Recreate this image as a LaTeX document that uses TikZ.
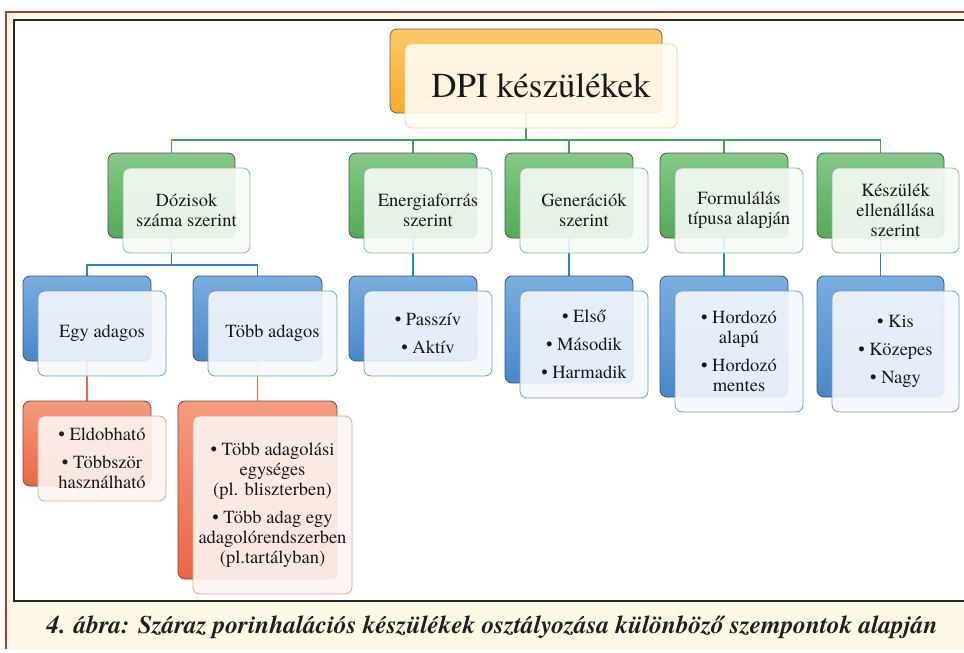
\documentclass[tikz,border=0pt]{standalone}
\usepackage{fontspec}
\IfFontExistsTF{texgyretermes-regular.otf}{%
  \setmainfont{texgyretermes}[Extension=.otf, UprightFont=*-regular, BoldFont=*-bold, ItalicFont=*-italic, BoldItalicFont=*-bolditalic]}{%
  \setmainfont{Latin Modern Roman}}
\pgfdeclarelayer{bgl}
\pgfdeclarelayer{lnl}
\pgfsetlayers{bgl,lnl,main}
\definecolor{cream}{HTML}{FDF9E6}
\definecolor{framered}{HTML}{A8402E}
\tikzset{
  boxbase/.style={rectangle, rounded corners=7pt, inner sep=0pt, line width=0.8pt},
  frontbase/.style={boxbase, fill opacity=0.9, text opacity=1, text=black!90, align=center, font=\fontsize{18.5}{20}\selectfont},
  goldback/.style={boxbase, top color={rgb,255:red,252;green,202;blue,104}, bottom color={rgb,255:red,245;green,170;blue,48}, draw={rgb,255:red,110;green,95;blue,70}},
  goldfront/.style={frontbase, fill={rgb,255:red,255;green,252;blue,242}, draw={rgb,255:red,243;green,213;blue,142}, font=\fontsize{35}{40}\selectfont},
  greenback/.style={boxbase, top color={rgb,255:red,134;green,201;blue,138}, bottom color={rgb,255:red,84;green,169;blue,86}, draw={rgb,255:red,70;green,95;blue,72}},
  greenfront/.style={frontbase, fill={rgb,255:red,247;green,251;blue,247}, draw={rgb,255:red,134;green,192;blue,140}},
  blueback/.style={boxbase, top color={rgb,255:red,122;green,174;blue,224}, bottom color={rgb,255:red,74;green,134;blue,200}, draw={rgb,255:red,62;green,86;blue,120}},
  bluefront/.style={frontbase, fill={rgb,255:red,245;green,248;blue,253}, draw={rgb,255:red,111;green,159;blue,210}},
  redback/.style={boxbase, top color={rgb,255:red,245;green,155;blue,125}, bottom color={rgb,255:red,234;green,102;blue,70}, draw={rgb,255:red,120;green,72;blue,60}},
  redfront/.style={frontbase, fill={rgb,255:red,253;green,245;blue,242}, draw={rgb,255:red,237;green,164;blue,140}},
  gline/.style={draw={rgb,255:red,58;green,166;blue,86}, line width=1.5pt},
  bline/.style={draw={rgb,255:red,50;green,128;blue,196}, line width=1.5pt},
  rline/.style={draw={rgb,255:red,230;green,106;blue,70}, line width=1.5pt},
  captionstyle/.style={inner sep=0pt, text=black!88, font=\fontsize{25.3}{27}\selectfont\bfseries\itshape}
}
\newcommand\mkbox[7]{%
  \node[#2back, minimum width=#5pt, minimum height=#6pt] (#1b) at ({#3+#5/2},{#4+#6/2}) {};
  \node[#2front, minimum width=#5pt, minimum height=#6pt] (#1f) at ({#3+15+#5/2},{#4+15+#6/2}) {#7};
}
\newcommand\bul{\textbullet\ }
\begin{document}
\begin{tikzpicture}[x=1pt,y=-1pt]
\useasboundingbox (0,0) rectangle (964,653);
\begin{pgfonlayer}{bgl}
  \fill[white] (0,0) rectangle (964,653);
  \fill[cream] (6,12) rectangle (964,649);
  \draw[framered, line width=2.5pt] (6,649) -- (6,12) -- (964,12);
  \fill[white] (14,20) rectangle (964,601);
  \draw[black!85, line width=1.2pt] (964,20) -- (14,20) -- (14,601) -- (964,601);
\end{pgfonlayer}

\mkbox{root}{gold}{390}{29}{272}{84}{DPI készülékek}
\mkbox{ga}{green}{108}{153}{127}{85}{Dózisok\\száma szerint}
\mkbox{gb}{green}{349}{153}{128}{85}{Energiaforrás\\szerint}
\mkbox{gc}{green}{505}{153}{128}{85}{Generációk\\szerint}
\mkbox{gd}{green}{660}{153}{128}{85}{Formulálás\\típusa alapján}
\mkbox{ge}{green}{817}{153}{127}{85}{Készülék\\ellenállása\\szerint}
\mkbox{ba}{blue}{23}{276}{128}{85}{Egy adagos}
\mkbox{bb}{blue}{193}{276}{129}{85}{Több adagos}
\mkbox{bc}{blue}{349}{276}{128}{85}{\bul Passzív\\[8pt]\bul Aktív}
\mkbox{bd}{blue}{505}{276}{128}{107}{\bul Első\\[8pt]\bul Második\\[8pt]\bul Harmadik}
\mkbox{be}{blue}{660}{276}{128}{121}{\bul Hordozó\\alapú\\[8pt]\bul Hordozó\\mentes}
\mkbox{bf}{blue}{817}{276}{127}{121}{\bul Kis\\[8pt]\bul Közepes\\[8pt]\bul Nagy}
\mkbox{ra}{red}{23}{401}{128}{85}{\bul Eldobható\\[8pt]\bul Többször\\használható}
\mkbox{rb}{red}{178}{401}{159}{178}{\bul Több adagolási\\egységes\\(pl. bliszterben)\\[8pt]\bul Több adag egy\\adagolórendszerben\\(pl.tartályban)}

\coordinate (gbus) at (0,140);
\coordinate (bbus) at (0,265);
\begin{pgfonlayer}{lnl}
  \foreach \c in {ga,gb,gc,gd,ge}
    \draw[gline] (rootb.south) -- (rootb.south |- gbus) -| (\c b.north);
  \foreach \c in {ba,bb}
    \draw[bline] (gab.south) -- (gab.south |- bbus) -| (\c b.north);
  \draw[bline] (gbb.south) -- (bcb.north);
  \draw[bline] (gcb.south) -- (bdb.north);
  \draw[bline] (gdb.south) -- (beb.north);
  \draw[bline] (geb.south) -- (bfb.north);
  \draw[rline] (bab.south) -- (rab.north);
  \draw[rline] (bbb.south) -- (rbb.north);
\end{pgfonlayer}

\node[captionstyle] (caption) at (492,627) {4. ábra: Száraz porinhalációs készülékek osztályozása különböző szempontok alapján};
\end{tikzpicture}
\end{document}
